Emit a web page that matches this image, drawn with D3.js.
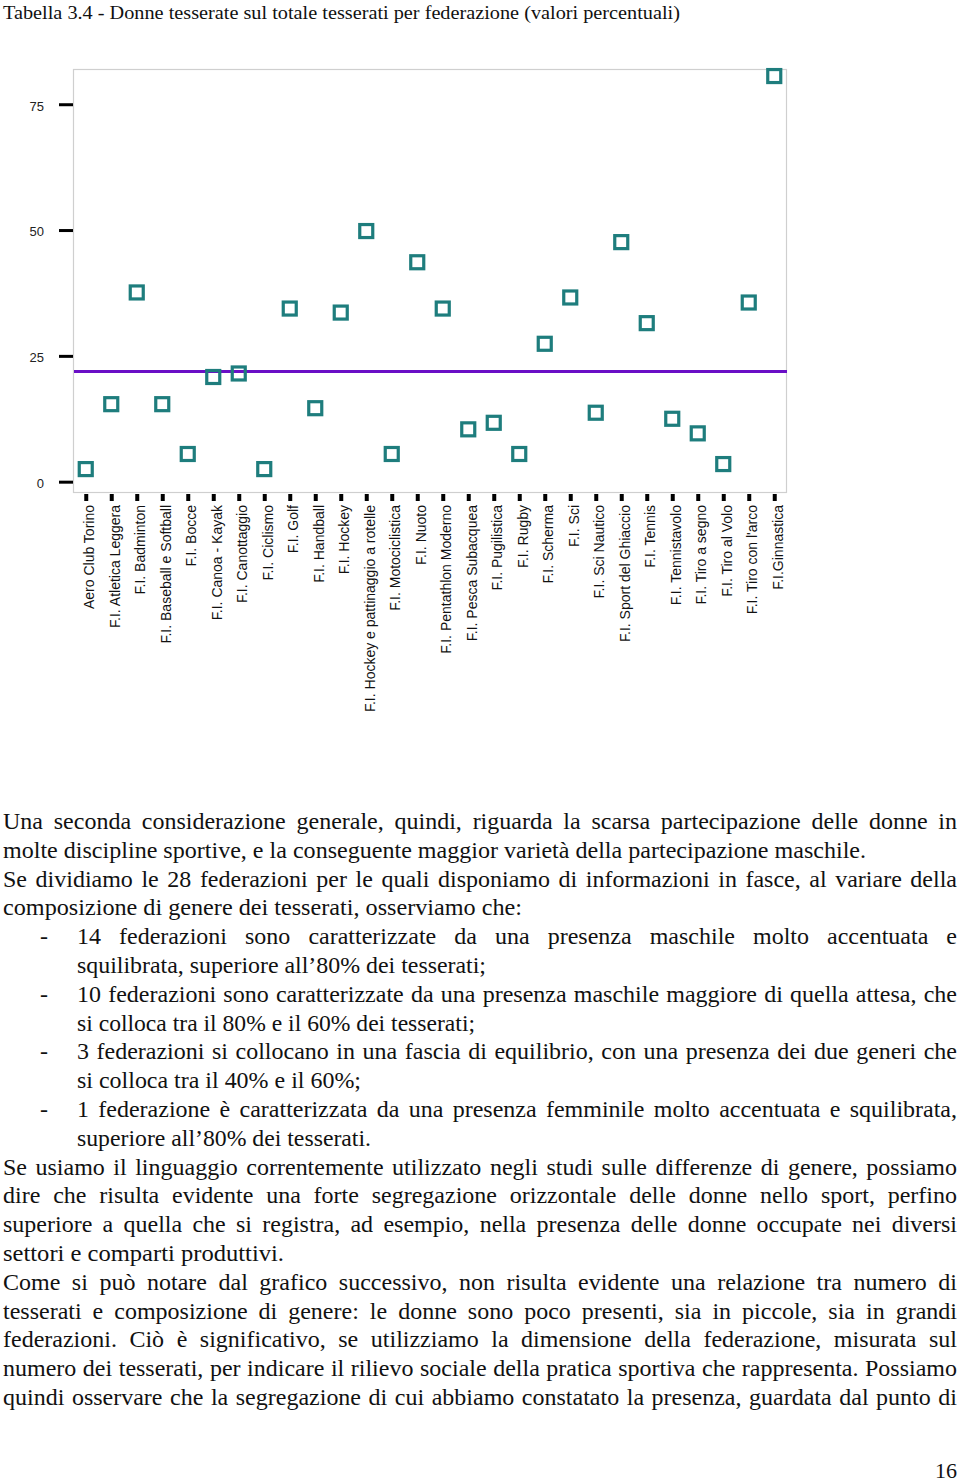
<!DOCTYPE html>
<html>
<head>
<meta charset="utf-8">
<script src="https://cdn.jsdelivr.net/npm/d3@7"></script>
<style>
  html, body { margin: 0; padding: 0; background: #ffffff; }
  svg { display: block; }
</style>
</head>
<body>
<svg id="page" width="960" height="1483"></svg>
<script>
// ---------------- DATA ----------------
const categories = [
  "Aero Club Torino",
  "F.I. Atletica Leggera",
  "F.I. Badminton",
  "F.I. Baseball e Softball",
  "F.I. Bocce",
  "F.I. Canoa - Kayak",
  "F.I. Canottaggio",
  "F.I. Ciclismo",
  "F.I. Golf",
  "F.I. Handball",
  "F.I. Hockey",
  "F.I. Hockey e pattinaggio a rotelle",
  "F.I. Motociclistica",
  "F.I. Nuoto",
  "F.I. Pentathlon Moderno",
  "F.I. Pesca Subacquea",
  "F.I. Pugilistica",
  "F.I. Rugby",
  "F.I. Scherma",
  "F.I. Sci",
  "F.I. Sci Nautico",
  "F.I. Sport del Ghiaccio",
  "F.I. Tennis",
  "F.I. Tennistavolo",
  "F.I. Tiro a segno",
  "F.I. Tiro al Volo",
  "F.I. Tiro con l'arco",
  "F.I.Ginnastica"
];
// percentage of women among members
const womenShare = [
  2.5, 15.4, 37.6, 15.4, 5.5, 20.8, 21.5, 2.5, 34.4, 14.6,
  33.6, 49.8, 5.5, 43.6, 34.4, 10.4, 11.7, 5.5, 27.4, 36.6,
  13.7, 47.6, 31.5, 12.5, 9.6, 3.5, 35.6, 80.6
];
const overallShare = 21.9;          // horizontal reference line
const yTickValues = [0, 25, 50, 75];

const titleText = "Tabella 3.4 - Donne tesserate sul totale tesserati per federazione (valori percentuali)";

// body text lines (j = justified)
const bodyLines = [
  { t: "Una seconda considerazione generale, quindi, riguarda la scarsa partecipazione delle donne in", x: 3, end: 957, j: true },
  { t: "molte discipline sportive, e la conseguente maggior varietà della partecipazione maschile.", x: 3, end: 866, j: false },
  { t: "Se dividiamo le 28 federazioni per le quali disponiamo di informazioni in fasce, al variare della", x: 3, end: 957, j: true },
  { t: "composizione di genere dei tesserati, osserviamo che:", x: 3, end: 522, j: false },
  { t: "14 federazioni sono caratterizzate da una presenza maschile molto accentuata e", x: 77, end: 957, j: true, bullet: true },
  { t: "squilibrata, superiore all’80% dei tesserati;", x: 77, end: 486, j: false },
  { t: "10 federazioni sono caratterizzate da una presenza maschile maggiore di quella attesa, che", x: 77, end: 957, j: true, bullet: true },
  { t: "si colloca tra il 80% e il 60% dei tesserati;", x: 77, end: 475, j: false },
  { t: "3 federazioni si collocano in una fascia di equilibrio, con una presenza dei due generi che", x: 77, end: 957, j: true, bullet: true },
  { t: "si colloca tra il 40% e il 60%;", x: 77, end: 361, j: false },
  { t: "1 federazione è caratterizzata da una presenza femminile molto accentuata e squilibrata,", x: 77, end: 957, j: true, bullet: true },
  { t: "superiore all’80% dei tesserati.", x: 77, end: 371, j: false },
  { t: "Se usiamo il linguaggio correntemente utilizzato negli studi sulle differenze di genere, possiamo", x: 3, end: 957, j: true },
  { t: "dire che risulta evidente una forte segregazione orizzontale delle donne nello sport, perfino", x: 3, end: 957, j: true },
  { t: "superiore a quella che si registra, ad esempio, nella presenza delle donne occupate nei diversi", x: 3, end: 957, j: true },
  { t: "settori e comparti produttivi.", x: 3, end: 284, j: false },
  { t: "Come si può notare dal grafico successivo, non risulta evidente una relazione tra numero di", x: 3, end: 957, j: true },
  { t: "tesserati e composizione di genere: le donne sono poco presenti, sia in piccole, sia in grandi", x: 3, end: 957, j: true },
  { t: "federazioni. Ciò è significativo, se utilizziamo la dimensione della federazione, misurata sul", x: 3, end: 957, j: true },
  { t: "numero dei tesserati, per indicare il rilievo sociale della pratica sportiva che rappresenta. Possiamo", x: 3, end: 957, j: true },
  { t: "quindi osservare che la segregazione di cui abbiamo constatato la presenza, guardata dal punto di", x: 3, end: 957, j: true }
];
const pageNumber = "16";

// ---------------- LAYOUT ----------------
const svg = d3.select("#page");
const serif = "'Liberation Serif', 'Times New Roman', serif";
const sans = "'Liberation Sans', Arial, sans-serif";

const plot = { left: 73, right: 787, top: 69, bottom: 493 };
const markColor = "#1e7d7d";
const refColor = "#6a0fc6";

// Title
svg.append("text")
  .attr("x", 3).attr("y", 19)
  .attr("font-family", serif).attr("font-size", 19)
  .attr("textLength", 677).attr("lengthAdjust", "spacingAndGlyphs")
  .attr("fill", "#111")
  .text(titleText);

// Scales
const x = d3.scalePoint().domain(categories).range([plot.left, plot.right]).padding(0.5);
const y = d3.scaleLinear().domain([-2.25, 82]).range([plot.bottom, plot.top]);

// Frame
svg.append("rect")
  .attr("x", plot.left + 0.5).attr("y", plot.top + 0.5)
  .attr("width", plot.right - plot.left - 1).attr("height", plot.bottom - plot.top - 1)
  .attr("fill", "none").attr("stroke", "#cfcfcf").attr("stroke-width", 1.2);

// Y axis
const yAxisG = svg.append("g")
  .attr("transform", `translate(${plot.left},0)`)
  .call(d3.axisLeft(y).tickValues(yTickValues).tickSize(14).tickPadding(15).tickFormat(d3.format("d")));
yAxisG.select(".domain").remove();
yAxisG.selectAll(".tick line").attr("stroke", "#000").attr("stroke-width", 3);
yAxisG.selectAll(".tick text")
  .attr("font-family", sans).attr("font-size", 13).attr("fill", "#222")
  .attr("dy", "0.45em");

// X axis
const xAxisG = svg.append("g")
  .attr("transform", `translate(0,${plot.bottom + 1})`)
  .call(d3.axisBottom(x).tickSize(7).tickPadding(0));
xAxisG.select(".domain").remove();
xAxisG.selectAll(".tick line").attr("stroke", "#000").attr("stroke-width", 4);
xAxisG.selectAll(".tick text")
  .attr("font-family", sans).attr("font-size", 14).attr("fill", "#111")
  .attr("y", 0).attr("dy", 0)
  .attr("text-anchor", "end")
  .attr("transform", "translate(8,11) rotate(-90)");

// Reference line
svg.append("line")
  .attr("x1", plot.left + 1).attr("x2", plot.right)
  .attr("y1", y(overallShare)).attr("y2", y(overallShare))
  .attr("stroke", refColor).attr("stroke-width", 3);

// Markers
const sq = 13;
svg.append("g").selectAll("rect")
  .data(categories.map((c, i) => ({ c, v: womenShare[i] })))
  .join("rect")
  .attr("x", d => x(d.c) - sq / 2)
  .attr("y", d => y(d.v) - sq / 2)
  .attr("width", sq).attr("height", sq)
  .attr("fill", "none").attr("stroke", markColor).attr("stroke-width", 3.2);

// ---------------- BODY TEXT ----------------
const bodySize = 24;
const lineStep = 28.8;
const firstBaseline = 829;

const bodyG = svg.append("g").attr("font-family", serif).attr("font-size", bodySize).attr("fill", "#111");

// measure natural widths
const measure = bodyG.append("text").attr("x", 0).attr("y", -100);
bodyLines.forEach(l => { measure.text(l.t); l.w = measure.node().getComputedTextLength(); });
measure.remove();

// global horizontal compression from the ragged lines
const ragged = bodyLines.filter(l => !l.j);
const sx = d3.mean(ragged, l => (l.end - l.x) / l.w);

bodyLines.forEach((l, i) => {
  const by = firstBaseline + i * lineStep;
  if (l.bullet) {
    bodyG.append("text").attr("x", 40).attr("y", by).text("-");
  }
  const target = l.end - l.x;
  const g = bodyG.append("g").attr("transform", `translate(${l.x},${by})`);
  if (l.j) {
    const T = target / sx;
    const spaces = (l.t.match(/ /g) || []).length;
    const ws = (T - l.w) / spaces;
    g.attr("transform", `translate(${l.x},${by}) scale(${sx},1)`)
      .append("text").attr("x", 0).attr("y", 0)
      .style("word-spacing", ws + "px")
      .attr("textLength", T).attr("lengthAdjust", "spacingAndGlyphs")
      .text(l.t);
  } else {
    g.append("text").attr("x", 0).attr("y", 0)
      .attr("textLength", target).attr("lengthAdjust", "spacingAndGlyphs")
      .text(l.t);
  }
});

// page number
svg.append("text")
  .attr("x", 957).attr("y", 1478)
  .attr("text-anchor", "end")
  .attr("font-family", serif).attr("font-size", 22).attr("fill", "#111")
  .text(pageNumber);
</script>
</body>
</html>
